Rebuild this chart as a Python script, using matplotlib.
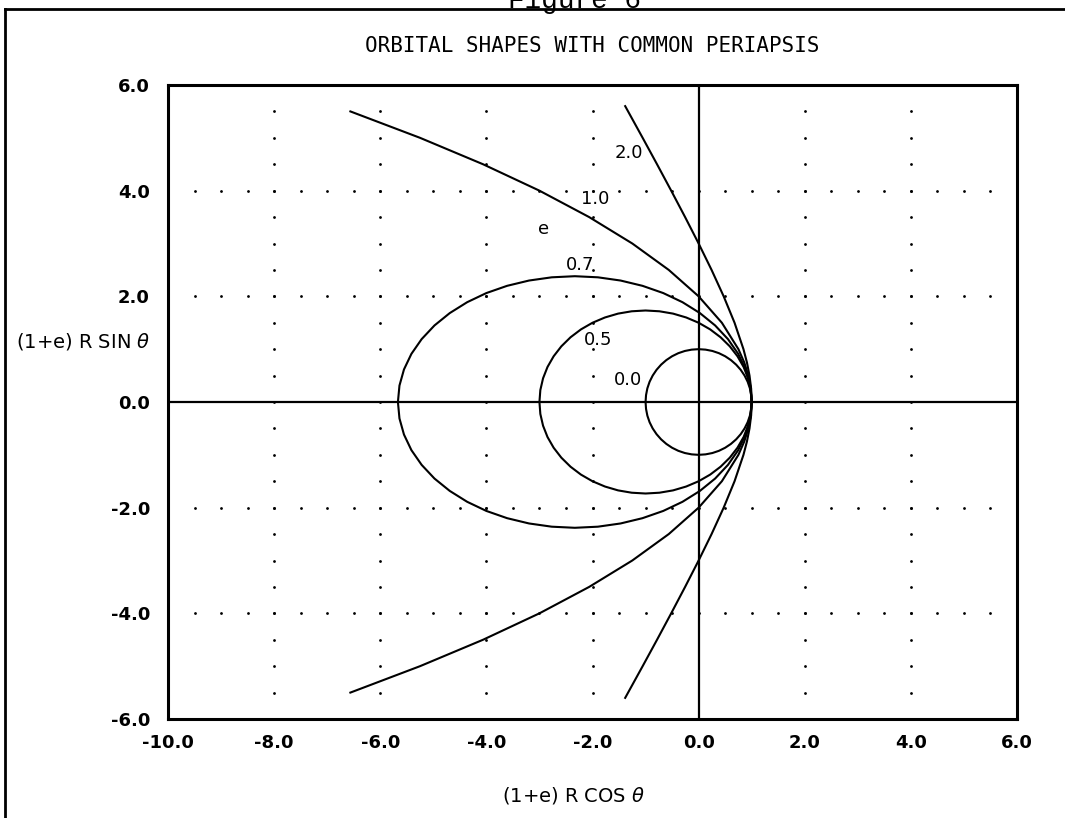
import numpy as np
import matplotlib
matplotlib.use('Agg')
import matplotlib.pyplot as plt
from matplotlib.lines import Line2D

plt.rcParams['font.family'] = ['DejaVu Sans']
plt.rcParams['axes.unicode_minus'] = False   # 绘图仪风格的短横线负号

# 各轨道曲线上的点
circ_x = [1, .991, .966, .924, .866, .793, .707, .609, .5, .383, .259, .131, 0,
          -.131, -.259, -.383, -.5, -.609, -.707, -.793, -.866, -.924, -.966, -.991, -1,
          -.991, -.966, -.924, -.866, -.793, -.707, -.609, -.5, -.383, -.259, -.131, 0,
          .131, .259, .383, .5, .609, .707, .793, .866, .924, .966, .991, 1]
circ_y = [0, .131, .259, .383, .5, .609, .707, .793, .866, .924, .966, .991, 1,
          .991, .966, .924, .866, .793, .707, .609, .5, .383, .259, .131, 0,
          -.131, -.259, -.383, -.5, -.609, -.707, -.793, -.866, -.924, -.966, -.991, -1,
          -.991, -.966, -.924, -.866, -.793, -.707, -.609, -.5, -.383, -.259, -.131, 0]

e05_x = [1, 0.983, 0.932, 0.848, 0.732, 0.587, 0.414, 0.218, 0, -0.235, -0.482, -0.739, -1,
         -1.261, -1.518, -1.765, -2, -2.218, -2.414, -2.587, -2.732, -2.848, -2.932, -2.983, -3,
         -2.983, -2.932, -2.848, -2.732, -2.587, -2.414, -2.218, -2, -1.765, -1.518, -1.261, -1,
         -0.739, -0.482, -0.235, 0, 0.218, 0.414, 0.587, 0.732, 0.848, 0.932, 0.983, 1]
e05_y = [0, 0.226, 0.448, 0.663, 0.866, 1.054, 1.225, 1.374, 1.5, 1.6, 1.673, 1.717, 1.732,
         1.717, 1.673, 1.6, 1.5, 1.374, 1.225, 1.054, 0.866, 0.663, 0.448, 0.226, 0,
         -0.226, -0.448, -0.663, -0.866, -1.054, -1.225, -1.374, -1.5, -1.6, -1.673, -1.717, -1.732,
         -1.717, -1.673, -1.6, -1.5, -1.374, -1.225, -1.054, -0.866, -0.663, -0.448, -0.226, 0]

e07_x = [1, 0.971, 0.886, 0.746, 0.553, 0.311, 0.024, -0.304, -0.667, -1.058, -1.471, -1.898, -2.333,
         -2.768, -3.196, -3.609, -4.0, -4.362, -4.69, -4.978, -5.22, -5.413, -5.553, -5.638, -5.667,
         -5.638, -5.553, -5.413, -5.22, -4.978, -4.69, -4.362, -4.0, -3.609, -3.196, -2.768, -2.333,
         -1.898, -1.471, -1.058, -0.667, -0.304, 0.024, 0.311, 0.553, 0.746, 0.886, 0.971, 1]
e07_y = [0, 0.311, 0.616, 0.911, 1.19, 1.449, 1.683, 1.889, 2.062, 2.199, 2.299, 2.36, 2.381,
         2.36, 2.299, 2.199, 2.062, 1.889, 1.683, 1.449, 1.19, 0.911, 0.616, 0.311, 0,
         -0.311, -0.616, -0.911, -1.19, -1.449, -1.683, -1.889, -2.062, -2.199, -2.299, -2.36, -2.381,
         -2.36, -2.299, -2.199, -2.062, -1.889, -1.683, -1.449, -1.19, -0.911, -0.616, -0.311, 0]

e10_x = [-6.563, -5.25, -4.063, -3.0, -2.063, -1.25, -0.563, 0.0, 0.438, 0.75, 0.859, 0.938, 0.984, 1.0,
         0.984, 0.938, 0.859, 0.75, 0.438, 0.0, -0.563, -1.25, -2.063, -3.0, -4.063, -5.25, -6.563]
e10_y = [5.5, 5.0, 4.5, 4.0, 3.5, 3.0, 2.5, 2.0, 1.5, 1.0, 0.75, 0.5, 0.25, 0,
         -0.25, -0.5, -0.75, -1.0, -1.5, -2.0, -2.5, -3.0, -3.5, -4.0, -4.5, -5.0, -5.5]

e20_x = [-1.384, -1.055, -0.784, -0.517, -0.255, 0.0, 0.244, 0.472, 0.677, 0.845, 0.91, 0.959, 0.99, 1.0,
         0.99, 0.959, 0.91, 0.845, 0.677, 0.472, 0.244, 0.0, -0.255, -0.517, -0.784, -1.055, -1.384]
e20_y = [5.6, 5.0, 4.5, 4.0, 3.5, 3.0, 2.5, 2.0, 1.5, 1.0, 0.75, 0.5, 0.25, 0,
         -0.25, -0.5, -0.75, -1.0, -1.5, -2.0, -2.5, -3.0, -3.5, -4.0, -4.5, -5.0, -5.6]

# 曲线标注
ecc_labels = ['2.0', '1.0', 'e', '0.7', '0.5', '0.0']
label_x = [-1.32, -1.94, -2.92, -2.23, -1.89, -1.34]
label_y = [4.72, 3.85, 3.28, 2.6, 1.17, 0.42]

x_ticks = [-10, -8, -6, -4, -2, 0, 2, 4, 6]
y_ticks = [-6, -4, -2, 0, 2, 4, 6]
grid_x = [-8, -6, -4, -2, 2, 4]
grid_y = [-4, -2, 2, 4]

W, H = 1065, 818
fig = plt.figure(figsize=(W / 100, H / 100), dpi=100)
ax = fig.add_axes([168 / W, 1 - 719 / H, (1017 - 168) / W, (719 - 85) / H])

# 点状网格
for gx in grid_x:
    ys = np.arange(-5.5, 6.0, 0.5)
    ax.scatter([gx] * len(ys), ys, s=4, color='black', linewidths=0, zorder=1)
for gy in grid_y:
    xs = np.arange(-9.5, 6.0, 0.5)
    ax.scatter(xs, [gy] * len(xs), s=4, color='black', linewidths=0, zorder=1)

ax.axhline(0, color='black', lw=1.6, zorder=2)
ax.axvline(0, color='black', lw=1.6, zorder=2)

for xs, ys in [(circ_x, circ_y), (e05_x, e05_y), (e07_x, e07_y), (e10_x, e10_y), (e20_x, e20_y)]:
    ax.plot(xs, ys, color='black', lw=1.5, zorder=3, solid_joinstyle='round')

for t, lx, ly in zip(ecc_labels, label_x, label_y):
    ax.text(lx, ly, t, ha='center', va='center', fontsize=13, zorder=4)

ax.set_xlim(-10, 6)
ax.set_ylim(-6, 6)
ax.set_xticks(x_ticks)
ax.set_yticks(y_ticks)
ax.set_xticklabels([f'{v:.1f}' for v in x_ticks])
ax.set_yticklabels([f'{v:.1f}' for v in y_ticks])
ax.tick_params(axis='both', length=0, labelsize=13)
ax.tick_params(axis='x', pad=11)
ax.tick_params(axis='y', pad=13)
for lab in ax.get_xticklabels() + ax.get_yticklabels():
    lab.set_fontweight('bold')
for sp in ax.spines.values():
    sp.set_linewidth(2.2)

fig.text(592 / W, 1 - 46 / H, 'ORBITAL SHAPES WITH COMMON PERIAPSIS',
         ha='center', va='center', fontsize=15, family='DejaVu Sans Mono')
fig.text(150 / W, 1 - 342 / H, r'(1+e) R SIN $\theta$', ha='right', va='center', fontsize=14)
fig.text(574 / W, 1 - 795 / H, r'(1+e) R COS $\theta$', ha='center', va='center', fontsize=14)

# 外框和被裁掉的 "Figure 6"
fig.text(575 / W, 1 - 8 / H, 'Figure 6', ha='center', va='baseline', fontsize=20,
         family='Liberation Mono')
fig.add_artist(Line2D([5 / W, 1], [1 - 9 / H, 1 - 9 / H], color='black', lw=2, transform=fig.transFigure))
fig.add_artist(Line2D([5 / W, 5 / W], [0, 1 - 9 / H], color='black', lw=2, transform=fig.transFigure))

fig.savefig('out.png', dpi=100)
